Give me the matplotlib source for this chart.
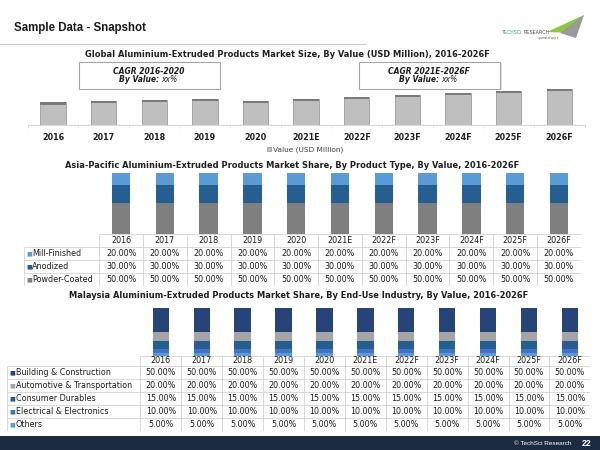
import numpy as np
import matplotlib
matplotlib.use('Agg')
from matplotlib import pyplot as plt
from matplotlib.patches import Rectangle, Polygon

years = ['2016', '2017', '2018', '2019', '2020', '2021E', '2022F', '2023F', '2024F', '2025F', '2026F']

# global market size (values are hidden in the source)
market_size = [23.0, 24.6, 25.6, 26.3, 24.6, 26.3, 28.6, 30.6, 32.3, 34.3, 36.3]

# asia-pacific share by product type (%)
product_labels = ['Mill-Finished', 'Anodized', 'Powder-Coated']
mill_finished = [20.0, 20.0, 20.0, 20.0, 20.0, 20.0, 20.0, 20.0, 20.0, 20.0, 20.0]
anodized = [30.0, 30.0, 30.0, 30.0, 30.0, 30.0, 30.0, 30.0, 30.0, 30.0, 30.0]
powder_coated = [50.0, 50.0, 50.0, 50.0, 50.0, 50.0, 50.0, 50.0, 50.0, 50.0, 50.0]

# malaysia share by end-use industry (%)
industry_labels = ['Building & Construction', 'Automotive & Transportation',
                   'Consumer Durables', 'Electrical & Electronics', 'Others']
building = [50.0, 50.0, 50.0, 50.0, 50.0, 50.0, 50.0, 50.0, 50.0, 50.0, 50.0]
automotive = [20.0, 20.0, 20.0, 20.0, 20.0, 20.0, 20.0, 20.0, 20.0, 20.0, 20.0]
consumer = [15.0, 15.0, 15.0, 15.0, 15.0, 15.0, 15.0, 15.0, 15.0, 15.0, 15.0]
electrical = [10.0, 10.0, 10.0, 10.0, 10.0, 10.0, 10.0, 10.0, 10.0, 10.0, 10.0]
others = [5.0, 5.0, 5.0, 5.0, 5.0, 5.0, 5.0, 5.0, 5.0, 5.0, 5.0]

W, H = 600, 450
plt.rcParams['font.family'] = ['DejaVu Sans']
fig = plt.figure(figsize=(6, 4.5), dpi=100)
TXT = '#1f1f1f'
GRID = '#d9d9d9'
TITLE_FS = 5.95
CELL_FS = 5.8


def px_axes(x0, y0, x1, y1):
    ax = fig.add_axes([x0 / W, 1 - y1 / H, (x1 - x0) / W, (y1 - y0) / H])
    return ax


def ftext(x, y, s, **kw):
    return fig.text(x / W, 1 - y / H, s, **kw)


def frect(x0, y0, x1, y1, **kw):
    r = Rectangle((x0 / W, 1 - y1 / H), (x1 - x0) / W, (y1 - y0) / H,
                  transform=fig.transFigure, **kw)
    fig.patches.append(r)
    return r


def data_table(ax, labels, colors, rows, label_w, row_h):
    n = len(years)
    left = -0.5 - label_w
    edges = np.concatenate([[0], np.cumsum(row_h)])
    ax.set_xlim(left, n - 0.5)
    ax.set_ylim(edges[-1], 0)
    ax.axis('off')
    # header row: only year cells are boxed
    ax.hlines(0, -0.5, n - 0.5, color=GRID, lw=0.7)
    for e in edges[1:]:
        ax.hlines(e, left, n - 0.5, color=GRID, lw=0.7)
    ax.vlines(left, edges[1], edges[-1], color=GRID, lw=0.7)
    for k in range(n + 1):
        ax.vlines(k - 0.5, 0, edges[-1], color=GRID, lw=0.7)
    for i, y in enumerate(years):
        ax.text(i, (edges[0] + edges[1]) / 2, y, ha='center', va='center',
                fontsize=CELL_FS, color=TXT)
    for r, (lab, col, vals) in enumerate(zip(labels, colors, rows)):
        yc = (edges[r + 1] + edges[r + 2]) / 2
        ax.annotate('■', (left, yc), xytext=(1.6, 0), textcoords='offset points',
                    ha='left', va='center', fontsize=4.4, color=col)
        ax.annotate(lab, (left, yc), xytext=(6.2, 0), textcoords='offset points',
                    ha='left', va='center', fontsize=CELL_FS, color=TXT)
        for i, v in enumerate(vals):
            ax.text(i, yc, f'{v:.2f}%', ha='center', va='center',
                    fontsize=CELL_FS, color=TXT)


# ---- header ----
ftext(14, 28, 'Sample Data - Snapshot', fontsize=8.3, fontweight='bold',
      family='Liberation Sans', va='center', color='#1a1a1a')
fig.lines.append(plt.Line2D([0, 365 / W], [1 - 43.5 / H] * 2, transform=fig.transFigure,
                            color='#c8c8c8', lw=0.8))
# logo
fig.patches.append(Polygon([(547 / W, 1 - 32 / H), (584 / W, 1 - 15 / H), (574 / W, 1 - 33 / H)],
                           closed=True, transform=fig.transFigure, color='#8dc63f', lw=0))
fig.patches.append(Polygon([(560 / W, 1 - 33 / H), (584 / W, 1 - 15 / H), (576 / W, 1 - 38 / H)],
                           closed=True, transform=fig.transFigure, color='#9a9a9a', lw=0))
ftext(502, 33, 'TECHSCI', fontsize=3.3, color='#2e9c8a', va='center', family='Liberation Sans')
ftext(524, 33, 'RESEARCH', fontsize=3.3, color='#4d4d4d', va='center', family='Liberation Sans')
ftext(538, 37.8, 'journal of a to z', fontsize=2.2, color='#4d4d4d', va='center',
      family='Liberation Sans', style='italic')

# ---- chart 1 ----
ftext(287, 54.5, 'Global Aluminium-Extruded Products Market Size, By Value (USD Million), 2016-2026F',
      ha='center', va='center', fontsize=TITLE_FS, fontweight='bold', color=TXT)
x = np.arange(len(years))
ax1 = px_axes(27.7, 86, 584.6, 125.3)
vals = np.array(market_size)
bars = ax1.bar(x, vals, width=0.5, color='#bfbfbf', edgecolor='#8f8f8f', lw=0.5,
               label='Value (USD Million)')
cap = 2.4
ax1.bar(x, cap, bottom=vals - cap, width=0.5, color='#7a7a7a', lw=0)
ax1.set_xlim(-0.5, len(years) - 0.5)
ax1.set_ylim(0, 39.3)
for s in ['top', 'right', 'left']:
    ax1.spines[s].set_visible(False)
ax1.spines['bottom'].set_color(GRID)
ax1.set_yticks([])
ax1.set_xticks(x, years, fontsize=5.8, fontweight='bold', color=TXT)
ax1.set_xticks(np.arange(-0.5, len(years)), minor=True)
ax1.tick_params(axis='x', which='major', length=0, pad=5.5)
ax1.tick_params(axis='x', which='minor', length=2, color=GRID)
ax1.patch.set_alpha(0)
fig.legend(handles=[bars], loc='center', bbox_to_anchor=(305 / W, 1 - 150 / H),
           frameon=False, fontsize=5.3, handlelength=0.55, handleheight=0.55,
           handletextpad=0.25, labelcolor='#404040')

# CAGR boxes
for (bx0, bx1), span in zip([(78.5, 219.6), (358.8, 500.0)], ['2016-2020', '2021E-2026F']):
    frect(bx0 + 1.5, 63.2, bx1 + 1.5, 90.2, color='#e3e3e3', lw=0, zorder=1)
    frect(bx0, 61.7, bx1, 88.7, facecolor='white', edgecolor='#a6a6a6', lw=0.8, zorder=2)
    cx = (bx0 + bx1) / 2
    ftext(cx, 71, 'CAGR ' + span, ha='center', va='center', fontsize=5.5,
          fontweight='bold', style='italic', color=TXT, zorder=3)
    ftext(cx + 10, 80, 'By Value:', ha='right', va='center', fontsize=5.5,
          fontweight='bold', style='italic', color=TXT, zorder=3)
    ftext(cx + 12, 80, 'xx%', ha='left', va='center', fontsize=5.5,
          style='italic', color=TXT, zorder=3)

# ---- chart 2 ----
ftext(292, 165, 'Asia-Pacific Aluminium-Extruded Products Market Share, By Product Type, By Value, 2016-2026F',
      ha='center', va='center', fontsize=TITLE_FS, fontweight='bold', color=TXT)
ax2 = px_axes(99.2, 172.7, 580.8, 234)
prod_colors = ['#5b9bd5', '#255e91', '#7f7f7f']
bottom = np.zeros(len(years))
for vals_, col in zip([powder_coated, anodized, mill_finished], prod_colors[::-1]):
    ax2.bar(x, vals_, bottom=bottom, width=0.42, color=col, lw=0)
    bottom += np.array(vals_)
ax2.set_xlim(-0.5, len(years) - 0.5)
ax2.set_ylim(0, 100)
ax2.axis('off')

axt2 = px_axes(23.8, 234, 580.8, 286)
data_table(axt2, product_labels, prod_colors, [mill_finished, anodized, powder_coated],
           (99.2 - 23.8) / 43.78, [13.3, 12.9, 12.9, 12.9])

# ---- chart 3 ----
ftext(299, 295.5, 'Malaysia Aluminium-Extruded Products Market Share, By End-Use Industry, By Value, 2016-2026F',
      ha='center', va='center', fontsize=TITLE_FS, fontweight='bold', color=TXT)
ax3 = px_axes(140.4, 307.7, 590.4, 355.7)
ind_colors = ['#264478', '#a5a5a5', '#255e91', '#4472c4', '#5b9bd5']
ind_rows = [building, automotive, consumer, electrical, others]
bottom = np.zeros(len(years))
for vals_, col in zip(ind_rows[::-1], ind_colors[::-1]):
    ax3.bar(x, vals_, bottom=bottom, width=0.4, color=col, lw=0)
    bottom += np.array(vals_)
ax3.set_xlim(-0.5, len(years) - 0.5)
ax3.set_ylim(0, 100)
ax3.axis('off')

axt3 = px_axes(6.9, 355.7, 590.4, 431.3)
data_table(axt3, industry_labels, ind_colors, ind_rows,
           (140.4 - 6.9) / 40.9, [10.3, 13.1, 13.1, 13.0, 13.0, 13.0])

# ---- footer ----
frect(0, 436, 600, 450, color='#1c2b40', lw=0)
ftext(543, 443.5, '© TechSci Research', ha='center', va='center', fontsize=4.6,
      color='white', family='Liberation Sans')
ftext(587, 443.5, '22', ha='center', va='center', fontsize=6.3, fontweight='bold',
      color='white', family='Liberation Sans')

fig.savefig('out.png', dpi=100)
